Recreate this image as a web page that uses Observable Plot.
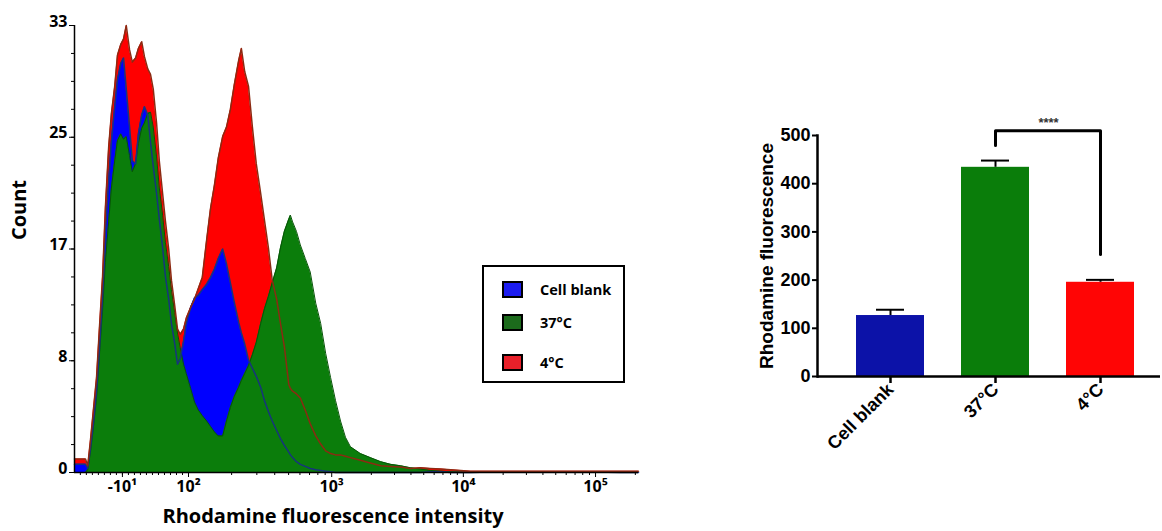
<!DOCTYPE html>
<html>
<head>
<meta charset="utf-8">
<script src="https://cdn.jsdelivr.net/npm/d3@7"></script>
<script src="https://cdn.jsdelivr.net/npm/@observablehq/plot@0.6"></script>
<style>
  body { margin: 0; background: #fff; }
  #root { position: relative; width: 1162px; height: 531px; overflow: hidden; background: #fff; }
  #left, #right { position: absolute; }
  #left { left: 0; top: 0; }
  #right { left: 740px; top: 100px; }
  .t { position: absolute; white-space: nowrap; color: #000; transform: translate(-50%, -50%); line-height: 1.1; }
  .flow { font-family: "Open Sans", sans-serif; font-weight: bold; }
  .prism { font-family: "Liberation Sans", Arial, sans-serif; font-weight: bold; }
  #legend { position: absolute; left: 482px; top: 265px; width: 139px; height: 114px; border: 2px solid #000; background: #fff; }
  .sw { position: absolute; left: 18px; width: 17px; height: 13px; border: 2px solid #000; }
  .lt { position: absolute; left: 56px; font-size: 14.5px; transform: translateY(-50%); white-space: nowrap; }
</style>
</head>
<body>
<div id="root">
  <div id="left"></div>
  <div id="right"></div>
  <div class="t flow" id="countTitle" style="left:19px; top:210px; font-size:20px; transform: translate(-50%,-50%) rotate(-90deg);"></div>
  <div class="t flow" id="xTitle" style="left:333px; top:516px; font-size:20px;"></div>
  <div class="t prism" id="barTitle" style="left:767px; top:256px; font-size:19px; transform: translate(-50%,-50%) rotate(-90deg);"></div>
  <div id="legend" class="flow"></div>
</div>
<script>
// ---------- Flow cytometry histogram (display channel 0–1024) ----------
const channel = [0,11,20,24,29,34,40,45,51,56, 62,67,73,78,84,89,94,100,105,111,
  116,122,127,133,138,143,149,154,160,165, 171,176,182,187,192,198,203,211,218,225,
  232,240,247,254,261,269,276,283,290,298, 303,309,316,323,330,338,345,352,359,367,
  374,381,389,392,396,403,410,419,428,438, 447,456,465,474,483,492,501,519,537,556,
  574,592,610,628,646,665,683,719,773,846, 919,991,1024];

const countCellBlank = [0.6,0.6,0.6,0.3,1.8,3.5,6,9,13,17.5, 21.5,24.5,27,29,30.2,30.6,28.3,25.5,23,22.8,
  25,26.4,27,26.4,24.4,22.6,20.6,18.7,16.6,14.5, 12.8,11,9.5,8,8.4,9.7,11,12.2,12.9,13.1,
  13.5,13.9,14.4,15,15.8,16.5,15.4,14,12.6,11.1, 10.3,9.5,8.3,7.7,7.1,6.3,5.3,4.5,3.8,3.1,
  2.5,2,1.5,1.3,1.1,0.8,0.6,0.45,0.3,0.2, 0.15,0.1,0.05,0,0,0,0,0,0,0,
  0,0,0,0,0.05,0.05,0,0,0.05,0.05, 0.05,0,0];

const count37C = [0,0,0,0.2,1.5,3.2,5.5,8.5,12,15.5, 18.5,21,23,24.5,25,24.6,24.8,23.4,22.2,22.8,
  24.3,25.4,25.8,26.5,26.6,25.5,23.3,21,19,17, 15.2,13.5,11.8,10.3,9.2,8,7.3,6.2,5.2,4.6,
  4.2,3.8,3.4,3,2.7,2.7,3.8,4.8,5.6,6.3, 6.8,7.3,7.9,8.7,9.6,11,12.1,13,14,15.1,
  16.6,17.8,18.7,19,18.5,17.8,16.8,15.8,14.8,12.5, 11,8.8,7,5.3,3.8,2.6,1.9,1.4,1.1,0.8,
  0.6,0.5,0.35,0.25,0.15,0.1,0.05,0,0,0, 0,0,0];

const count4C = [1,1,1,0.5,2.4,4.5,7,10.5,14.5,19.5, 24,26.5,28.5,30.8,31.6,32,33,31.2,30.3,30.6,
  31.3,31.8,30.7,29.8,29.4,28.3,25.8,23,20.6,18.6, 16.5,14.2,12.3,10.6,10.2,10.6,11.4,12.2,12.8,13.6,
  14.4,17.2,19.5,21.2,23.2,24.8,25.5,26.8,28.6,30.4, 31.3,29.6,28.5,25.5,22.8,20.6,18.6,16.6,14.2,12.8,
  11,9.3,6.5,6.2,6,5.8,5.5,4.6,3.6,2.7, 2.1,1.6,1.4,1.3,1.3,1.2,1.1,0.9,0.7,0.5,
  0.45,0.4,0.3,0.35,0.3,0.25,0.2,0.1,0.1,0.1, 0.1,0.1,0.1];

const seriesNames = ["Cell blank", "37°C", "4°C"];
const seriesFill = ["#0000ff", "#0b7d0b", "#ff0000"];
const seriesLine = ["#17347e", "#075407", "#8c2a12"];
const legendSwatch = ["#1c1cf0", "#1c6b1c", "#e8202a"];

// decade ticks at their display channels
const fluorTickChannels = [87, 207, 467, 706, 946];
const fluorTickLabels = ["-10¹", "10²", "10³", "10⁴", "10⁵"];
const countTicks = [0, 8.25, 16.5, 24.75, 33];
const countTickLabels = ["0", "8", "17", "25", "33"];

// ---------- Bar chart ----------
const barGroups = ["Cell blank", "37°C", "4°C"];
const barMeans = [126.5, 434, 195.5];
const barSEM = [12, 14, 5];
const barColors = ["#0c12a8", "#0a7d0a", "#ff0505"];
const bracketGroups = ["37°C", "37°C", "4°C", "4°C"];
const bracketLevels = [479, 510, 510, 253];
const sigLabel = "****";
const sigLevel = 527;
const barTicks = [0, 100, 200, 300, 400, 500];

// ---------- build tables ----------
const rows = (vals) => channel.map((c, i) => ({ch: c, n: vals[i]}));
const histByName = {"Cell blank": rows(countCellBlank), "37°C": rows(count37C), "4°C": rows(count4C)};

// minor ticks derived from the decade tick channels
const minorX = [];
{
  const cNeg = fluorTickChannels[0], c100 = fluorTickChannels[1];
  const perUnit = (c100 - cNeg) / 110;
  for (let v = -90; v < 100; v += 10) { const c = cNeg + (v + 10) * perUnit; if (c >= 0) minorX.push(c); }
  for (let k = 1; k < fluorTickChannels.length - 1; k++) {
    const a = fluorTickChannels[k], b = fluorTickChannels[k + 1];
    for (let m = 2; m <= 9; m++) minorX.push(a + Math.log10(m) * (b - a));
  }
  const a = fluorTickChannels[4], b = a + (fluorTickChannels[4] - fluorTickChannels[3]);
  minorX.push(a + Math.log10(2) * (b - a));
}
const minorY = d3.range(0, 33.0001, 33 / 16);
const xLabelMap = new Map(fluorTickChannels.map((c, i) => [c, fluorTickLabels[i]]));

const drawOrder = ["4°C", "Cell blank", "37°C"];
const idx = (n) => seriesNames.indexOf(n);

const left = Plot.plot({
  width: 660, height: 500,
  marginLeft: 74, marginRight: 22, marginTop: 25, marginBottom: 28,
  style: {fontFamily: "'Open Sans', sans-serif", fontWeight: "bold", fontSize: "16px", color: "#000", background: "transparent", overflow: "visible"},
  x: {domain: [0, 1024]},
  y: {domain: [0, 33]},
  marks: [
    ...drawOrder.map(n => Plot.areaY(histByName[n], {x: "ch", y: "n", fill: seriesFill[idx(n)]})),
    Plot.lineY(histByName["37°C"], {x: "ch", y: "n", stroke: seriesLine[1], strokeWidth: 1}),
    Plot.lineY(histByName["Cell blank"], {x: "ch", y: "n", stroke: seriesLine[0], strokeWidth: 1.5}),
    Plot.lineY(histByName["4°C"], {x: "ch", y: "n", stroke: seriesLine[2], strokeWidth: 1.5}),
    Plot.ruleX([0], {stroke: "#000", strokeWidth: 1.5}),
    Plot.ruleY([0], {stroke: "#000", strokeWidth: 1.5}),
    Plot.axisY({ticks: minorY, tickSize: 3, tickFormat: () => "", label: null}),
    Plot.axisY({ticks: countTicks, tickSize: 5, tickFormat: () => "", label: null}),
    Plot.text(countTicks, {y: d => d, text: (d, i) => countTickLabels[i], frameAnchor: "left", textAnchor: "end", dx: -7, dy: -4, fontSize: 16}),
    Plot.axisX({ticks: minorX, tickSize: 3, tickFormat: () => "", label: null}),
    Plot.axisX({ticks: fluorTickChannels, tickSize: 5, tickPadding: 3, tickFormat: d => xLabelMap.get(d), label: null, fontSize: 16})
  ]
});
document.getElementById("left").appendChild(left);

const bars = barGroups.map((g, i) => ({group: g, mean: barMeans[i], top: barMeans[i] + barSEM[i]}));
const bracket = bracketGroups.map((g, i) => ({group: g, y: bracketLevels[i]}));

const right = Plot.plot({
  width: 422, height: 360,
  marginLeft: 77, marginRight: 2, marginTop: 35, marginBottom: 84,
  style: {fontFamily: "'Liberation Sans', Arial, sans-serif", fontWeight: "bold", fontSize: "18px", color: "#000", background: "transparent", overflow: "visible"},
  x: {domain: barGroups, paddingInner: 0.349, paddingOuter: 0.2925, align: 0.61},
  y: {domain: [0, 500]},
  color: {domain: barGroups, range: barColors},
  marks: [
    Plot.barY(bars, {x: "group", y: "mean", fill: "group"}),
    Plot.ruleX(bars, {x: "group", y1: "mean", y2: "top", stroke: "#000", strokeWidth: 2}),
    Plot.tickY(bars, {x: "group", y: "top", stroke: "#000", strokeWidth: 2, insetLeft: 20, insetRight: 20}),
    Plot.line(bracket, {x: "group", y: "y", stroke: "#000", strokeWidth: 3}),
    Plot.text([{group: "37°C", y: sigLevel, label: sigLabel}], {x: "group", y: "y", text: "label", dx: 53, fontSize: 13, fill: "#333"}),
    Plot.frame({anchor: "left", stroke: "#000", strokeWidth: 2.5}),
    Plot.ruleY([0], {stroke: "#000", strokeWidth: 2.5}),
    Plot.axisY({ticks: barTicks, tickSize: 5, tickPadding: 2, strokeWidth: 2, label: null, fontSize: 18}),
    Plot.axisX({tickRotate: -45, tickSize: 7, tickPadding: 3, strokeWidth: 2.5, label: null, fontSize: 18})
  ]
});
document.getElementById("right").appendChild(right);

document.getElementById("countTitle").textContent = "Count";
document.getElementById("xTitle").textContent = "Rhodamine fluorescence intensity";
document.getElementById("barTitle").textContent = "Rhodamine fluorescence";

const legend = document.getElementById("legend");
const entryTops = [22, 55, 95];
seriesNames.forEach((n, i) => {
  const sw = document.createElement("div");
  sw.className = "sw";
  sw.style.top = (entryTops[i] - 8) + "px";
  sw.style.background = legendSwatch[i];
  legend.appendChild(sw);
  const t = document.createElement("div");
  t.className = "lt";
  t.style.top = entryTops[i] + "px";
  t.textContent = n;
  legend.appendChild(t);
});
</script>
</body>
</html>
